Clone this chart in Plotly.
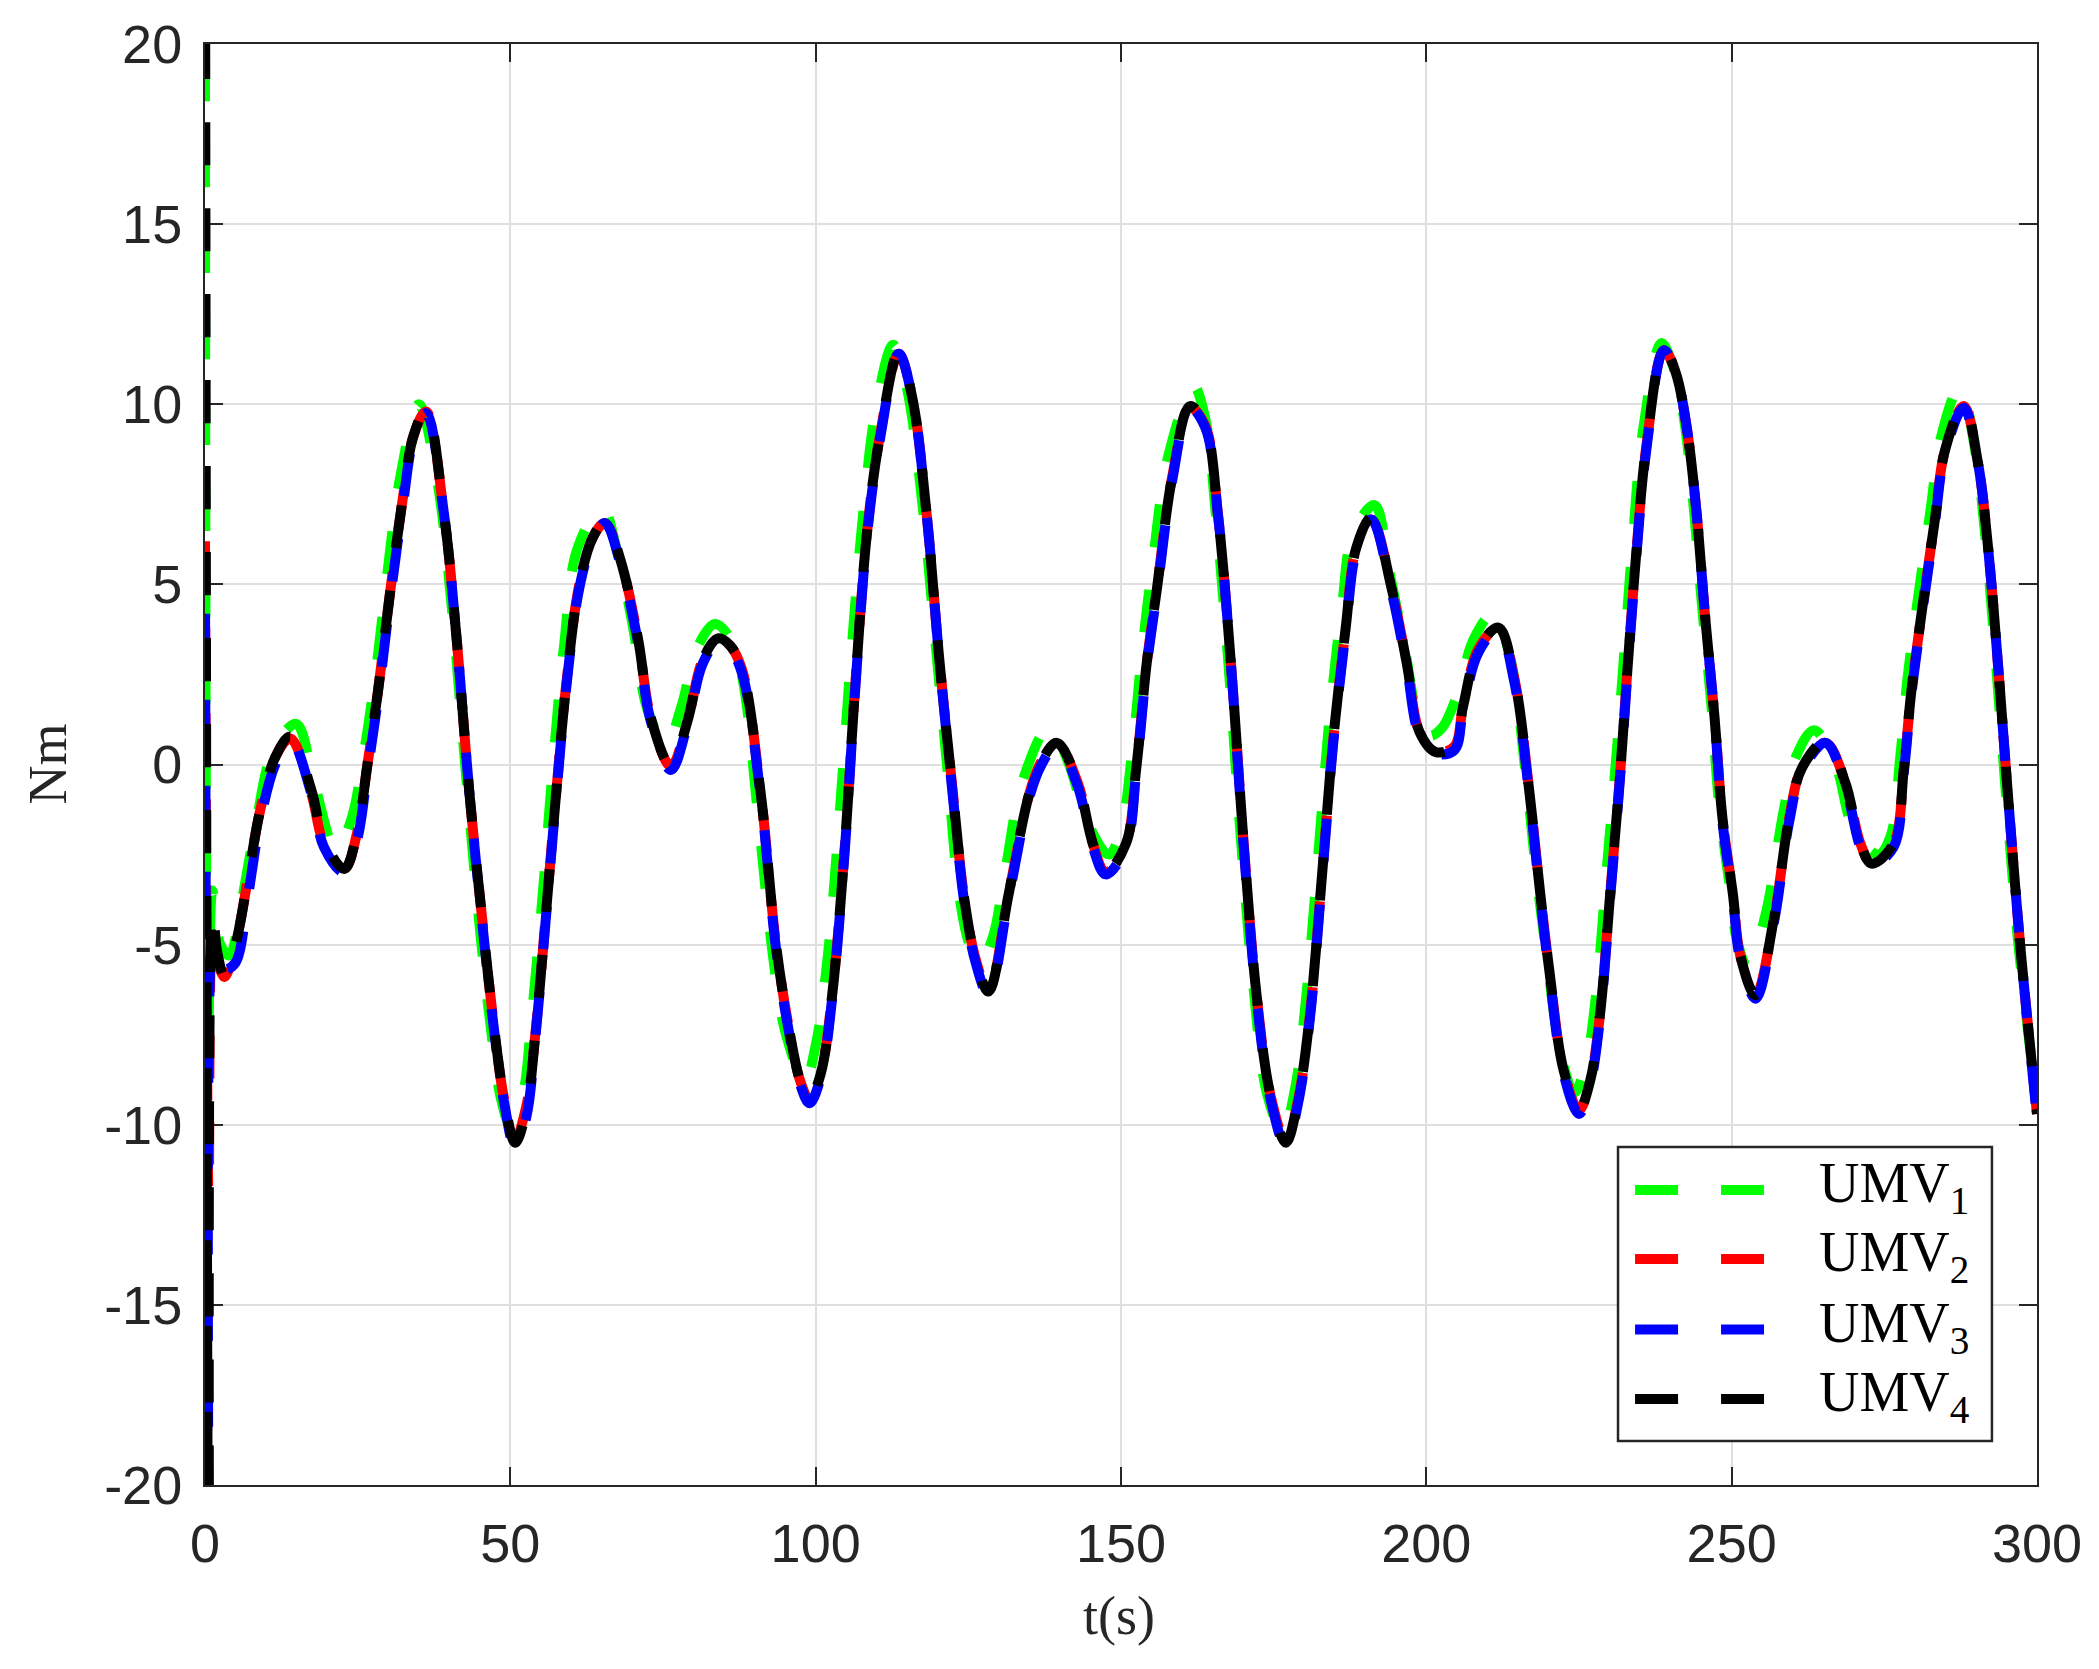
import plotly.graph_objects as go

# ---------------- data ----------------
t_main = [0.0, 0.6, 1.2, 2.0, 3.2, 5.0, 7.0, 9.0, 11.5, 14.0, 17.4, 19.5, 22.8, 24.9, 26.6, 28.3,
          30.4, 32.4, 34.1, 36.2, 39.1, 41.2, 43.3, 45.4, 47.0, 49.0, 50.8, 52.6, 54.2, 56.0, 57.5,
          59.2, 61.3, 63.5, 65.5, 68.0, 70.9, 73.0, 76.3, 79.0, 81.5, 84.0, 86.0, 88.0, 91.0, 93.5,
          95.6, 97.5, 99.0, 100.8, 102.7, 104.8, 106.4, 108.5, 110.6, 113.6, 115.8, 118.2, 120.2,
          122.3, 124.4, 126.2, 128.3, 131.6, 135.0, 137.0, 139.5, 142.9, 145.4, 147.5, 150.8, 152.5,
          154.2, 155.9, 158.4, 161.3, 163.8, 165.9, 168.0, 170.1, 172.2, 174.5, 177.0, 179.0, 180.9,
          183.0, 184.7, 186.8, 188.5, 191.0, 194.3, 196.8, 198.9, 201.5, 204.6, 206.0, 208.5, 211.8,
          214.4, 216.9, 218.6, 220.2, 222.5, 225.0, 226.8, 228.4, 230.1, 231.8, 233.0, 234.3, 236.0,
          238.9, 240.8, 242.6, 244.3, 245.6, 247.2, 248.5, 250.2, 251.4, 253.9, 256.9, 259.4, 261.5,
          265.4, 268.6, 271.1, 272.9, 276.5, 278.2, 279.4, 281.1, 283.2, 284.9, 288.0, 290.3, 292.0,
          293.6, 294.9, 296.2, 297.4, 300.0]

umv4 = [25, -25, -4.0, -5.2, -5.9, -5.0, -3.2, -1.3, 0.2, 0.78, -0.7, -2.1, -2.9, -1.9, 0.0, 2.0,
        4.9, 7.4, 9.1, 9.85, 7.0, 3.5, -0.8, -4.3, -6.8, -9.3, -10.5, -9.6, -7.3, -3.8, -0.8,
        2.3, 5.0, 6.3, 6.75, 5.7, 3.5, 1.3, -0.05, 1.2, 2.9, 3.5, 3.3, 2.6, -0.8, -5.0,
        -7.3, -8.8, -9.3, -8.6, -6.4, -2.2, 2.0, 6.6, 9.2, 11.45, 10.2, 6.9, 3.0,
        -0.5, -3.8, -5.4, -6.3, -3.6, -0.8, 0.1, 0.6, -0.5, -2.2, -3.0, -2.2, -0.1,
        2.8, 4.9, 8.0, 9.95, 9.4, 6.9, 2.8, -2.2, -6.4, -9.2, -10.5, -9.3, -7.0,
        -2.9, 0.6, 3.8, 6.0, 6.85, 4.9, 2.8, 0.9, 0.35, 0.5, 1.6, 3.2, 3.8,
        2.4, -0.8, -3.5, -5.8, -8.5, -9.6, -8.8, -7.0, -3.6, -0.1, 2.8, 5.7, 8.8,
        11.55, 10.9, 9.4, 6.9, 4.2, 1.3, -1.5, -3.6, -5.3, -6.4, -4.3, -1.5, -0.1,
        0.65, -0.5, -2.2, -2.75, -2.2, -0.1, 2.0, 4.2, 6.7, 8.7, 10.0, 8.4, 6.0,
        2.8, -0.1, -2.9, -5.3, -9.7]

umv2 = [6.2, -12, -4.5, -5.4, -5.9, -5.0, -3.2, -1.3, 0.2, 0.72, -0.8, -2.2, -2.9, -1.9, 0.0, 2.0,
        4.9, 7.4, 9.1, 9.8, 7.0, 3.5, -0.8, -4.3, -6.8, -9.3, -10.4, -9.5, -7.3, -3.8, -0.8,
        2.3, 5.0, 6.3, 6.7, 5.7, 3.5, 1.3, -0.05, 1.2, 2.9, 3.5, 3.3, 2.6, -0.8, -5.0,
        -7.3, -8.8, -9.3, -8.6, -6.4, -2.2, 2.0, 6.6, 9.2, 11.4, 10.2, 6.9, 3.0,
        -0.5, -3.8, -5.4, -6.3, -3.6, -0.8, 0.1, 0.6, -0.5, -2.2, -3.0, -2.2, -0.1,
        2.8, 4.9, 8.0, 9.9, 9.4, 6.9, 2.8, -2.2, -6.4, -9.2, -10.45, -9.3, -7.0,
        -2.9, 0.6, 3.8, 6.0, 6.8, 4.9, 2.8, 0.9, 0.35, 0.5, 1.6, 3.2, 3.8,
        2.4, -0.8, -3.5, -5.8, -8.5, -9.6, -8.8, -7.0, -3.6, -0.1, 2.8, 5.7, 8.8,
        11.5, 10.9, 9.4, 6.9, 4.2, 1.3, -1.5, -3.6, -5.3, -6.4, -4.3, -1.5, -0.1,
        0.6, -0.5, -2.2, -2.75, -2.2, -0.1, 2.0, 4.2, 6.7, 8.7, 9.95, 8.4, 6.0,
        2.8, -0.1, -2.9, -5.3, -9.7]

umv3 = [5.3, -25, -5.0, -5.6, -5.7, -5.5, -3.7, -1.6, 0.0, 0.7, -0.8, -2.3, -3.0, -2.1, -0.2, 1.8,
        4.7, 7.2, 9.0, 9.75, 7.0, 3.5, -0.8, -4.4, -6.9, -9.4, -10.65, -9.8, -7.4, -3.9, -0.9,
        2.2, 4.9, 6.2, 6.7, 5.6, 3.4, 1.2, -0.15, 1.1, 2.8, 3.4, 3.2, 2.5, -0.9, -5.1,
        -7.4, -8.9, -9.4, -8.7, -6.5, -2.3, 1.9, 6.5, 9.1, 11.4, 10.2, 6.9, 3.0,
        -0.6, -3.9, -5.5, -6.4, -3.7, -0.9, 0.0, 0.55, -0.6, -2.3, -3.05, -2.3, -0.2,
        2.7, 4.8, 7.9, 9.9, 9.35, 6.9, 2.8, -2.3, -6.5, -9.3, -10.6, -9.4, -7.1,
        -3.0, 0.5, 3.7, 5.9, 6.8, 4.8, 2.7, 0.8, 0.3, 0.4, 1.5, 3.1, 3.75,
        2.3, -0.9, -3.6, -5.9, -8.6, -9.7, -8.9, -7.1, -3.7, -0.2, 2.7, 5.6, 8.7,
        11.5, 10.9, 9.4, 6.9, 4.2, 1.3, -1.6, -3.7, -5.4, -6.5, -4.4, -1.6, -0.2,
        0.6, -0.6, -2.3, -2.8, -2.3, -0.2, 1.9, 4.1, 6.6, 8.6, 9.9, 8.4, 6.0,
        2.8, -0.1, -2.9, -5.3, -9.8]

t_umv1 = [0.0, 0.5, 1.2, 2.5, 4.0, 6.0, 8.5, 11.0, 14.9, 18.0, 21.5, 24.0, 26.0, 28.0, 30.0, 32.0,
          35.0, 38.0, 40.5, 42.5, 44.8, 46.8, 48.5, 50.0, 52.0, 53.5, 55.3, 57.0, 58.8, 61.0, 65.0,
          67.5, 70.0, 72.5, 75.5, 78.0, 80.5, 83.5, 86.0, 88.0, 90.5, 93.0, 95.0, 98.2, 100.0, 102.0,
          104.0, 105.8, 107.8, 110.0, 112.7, 115.0, 117.5, 119.5, 121.5, 123.5, 125.2, 126.9, 129.0,
          131.0, 134.0, 138.3, 141.5, 144.5, 148.0, 150.0, 151.8, 153.5, 155.2, 157.8, 161.9, 163.8,
          165.5, 167.5, 169.6, 171.7, 174.0, 176.5, 178.5, 180.3, 182.4, 184.1, 186.2, 188.0, 191.5,
          194.0, 196.5, 198.5, 200.5, 202.5, 205.0, 207.8, 211.0, 213.8, 216.3, 218.0, 219.7, 222.0,
          224.2, 226.0, 227.8, 229.5, 231.2, 232.5, 233.8, 235.5, 238.5, 240.5, 242.2, 243.8, 245.1,
          246.7, 248.0, 249.7, 250.9, 252.7, 255.5, 258.5, 260.5, 263.5, 267.0, 270.0, 274.0, 276.0,
          277.6, 278.8, 280.5, 282.6, 284.3, 287.4, 289.8, 291.5, 293.1, 294.4, 295.7, 296.9, 300.0]

umv1 = [25, -8, -3.5, -5.0, -5.3, -3.8, -1.5, 0.3, 1.13, -0.6, -2.4, -1.5, 0.3, 2.6, 5.5, 8.0,
        10.0, 7.9, 4.2, 0.2, -4.2, -7.3, -9.3, -10.0, -9.2, -7.0, -3.6, 0.0, 3.3, 6.0, 7.15,
        5.9, 3.9, 1.5, 0.55, 1.6, 3.2, 3.9, 3.5, 2.4, -1.3, -5.3, -7.4, -8.8, -7.8, -5.3,
        -1.2, 3.0, 7.0, 10.0, 11.65, 10.4, 7.2, 3.6, 0.0, -3.6, -5.0, -5.5, -4.8,
        -3.0, -0.4, 1.05, 0.0, -1.6, -2.5, -1.8, 0.3, 3.2, 5.6, 8.6, 10.5, 9.6,
        7.0, 3.0, -2.0, -6.2, -9.2, -10.2, -9.0, -6.5, -2.3, 1.2, 4.4, 6.4, 7.2,
        5.3, 3.2, 1.4, 0.8, 1.0, 1.9, 3.5, 4.2, 2.9, -0.3, -3.0, -5.3, -8.0,
        -9.1, -8.4, -6.4, -3.0, 0.4, 3.3, 6.2, 9.3, 11.7, 11.0, 9.6, 7.1, 4.5,
        1.6, -1.2, -3.4, -4.9, -5.6, -4.2, -1.3, 0.2, 0.95, 0.0, -1.8, -2.5, -2.0,
        0.2, 2.4, 4.6, 7.1, 9.1, 10.5, 8.8, 6.4, 3.2, 0.3, -2.5, -4.9, -9.5]

assert len(t_main) == len(umv4) == len(umv2) == len(umv3)
assert len(t_umv1) == len(umv1)

series_names = ["UMV<sub>1</sub>", "UMV<sub>2</sub>", "UMV<sub>3</sub>", "UMV<sub>4</sub>"]
series_colors = ["#00ff00", "#ff0000", "#0000ff", "#000000"]

x_ticks = [0, 50, 100, 150, 200, 250, 300]
x_ticktext = ["0", "50", "100", "150", "200", "250", "300"]
y_ticks = [-20, -15, -10, -5, 0, 5, 10, 15, 20]
y_ticktext = ["-20", "-15", "-10", "-5", "0", "5", "10", "15", "20"]

# ---------------- figure ----------------
LW = 10
dash_patterns = ["0px,22px,43px,21px", "43px,43px", "0px,40px,43px,3px", "43px,43px"]
xs = [t_umv1, t_main, t_main, t_main]
ys = [umv1, umv2, umv3, umv4]

fig = go.Figure()
for x, y, name, col, dsh in zip(xs, ys, series_names, series_colors, dash_patterns):
    fig.add_trace(go.Scatter(x=x, y=y, mode="lines", name=name, showlegend=False,
                             line=dict(color=col, width=LW, dash=dsh, shape="spline", smoothing=1.0)))

axis_common = dict(
    showgrid=True, gridcolor="#dfdfdf", gridwidth=1.5,
    showline=True, linecolor="#262626", linewidth=2, mirror="ticks",
    ticks="inside", ticklen=18, tickwidth=2, tickcolor="#262626",
    tickfont=dict(family="Liberation Sans, Arial, sans-serif", size=54, color="#262626"),
    zeroline=False, layer="below traces",
)

fig.update_xaxes(range=[0, 300], tickvals=x_ticks, ticktext=x_ticktext, ticklabelstandoff=10, **axis_common)
fig.update_yaxes(range=[-20, 20], tickvals=y_ticks, ticktext=y_ticktext, ticklabelstandoff=10, **axis_common)

serif = "Liberation Serif, Times New Roman, serif"
annotations = [
    dict(text="Nm", xref="paper", yref="paper", x=-0.0862, y=0.5, textangle=-90, showarrow=False,
         font=dict(family=serif, size=54, color="#262626"), xanchor="center", yanchor="middle"),
    dict(text="t(s)", xref="paper", yref="paper", x=0.4989, y=-0.0909, showarrow=False,
         font=dict(family=serif, size=54, color="#262626"), xanchor="center", yanchor="middle"),
]

# custom legend box (MATLAB-style)
shapes = [dict(type="rect", xref="paper", yref="paper", x0=0.7713, x1=0.9754, y0=0.0305, y1=0.2346,
               line=dict(color="#262626", width=2.5), fillcolor="white", layer="above")]
row_y = [0.2047, 0.1568, 0.1079, 0.0597]
for ry, name, col in zip(row_y, series_names, series_colors):
    shapes.append(dict(type="line", xref="paper", yref="paper", x0=0.7806, x1=0.8510, y0=ry, y1=ry,
                       line=dict(color=col, width=LW, dash="43px,43px"), layer="above"))
    annotations.append(dict(text=name, xref="paper", yref="paper", x=0.8800, y=ry + 0.002,
                            showarrow=False, xanchor="left", yanchor="middle",
                            font=dict(family=serif, size=56, color="#000000")))

fig.update_layout(
    width=2099, height=1669,
    margin=dict(l=205, r=62, t=44, b=184),
    paper_bgcolor="white", plot_bgcolor="white",
    showlegend=False,
    shapes=shapes, annotations=annotations,
)

fig.write_html("out.html", config={"displayModeBar": False},
               post_script="document.body.style.margin='0';document.body.style.overflow='hidden';")
